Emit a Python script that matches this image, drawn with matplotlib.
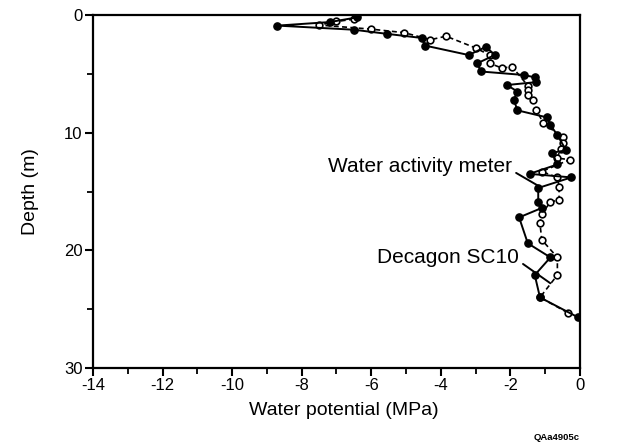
import numpy as np
import matplotlib.pyplot as plt
from matplotlib.ticker import MultipleLocator

plt.rcParams['font.family'] = ['Liberation Sans', 'DejaVu Sans']
plt.rcParams['axes.unicode_minus'] = False

# Water activity meter profile (MPa, depth m)
wam_psi = [-6.4, -7.2, -8.7, -6.5, -5.55, -4.55, -4.45, -3.2, -2.7, -2.45,
           -2.95, -2.85, -1.6, -1.3, -1.25, -2.1, -1.8, -1.9, -1.8, -0.95,
           -0.85, -0.65, -0.4, -0.8, -0.65, -1.45, -0.25, -1.2, -1.2, -1.1,
           -1.75, -1.5, -0.85, -1.3, -1.15, -0.05]
wam_depth = [0.2, 0.6, 0.9, 1.25, 1.6, 1.95, 2.6, 3.4, 2.7, 3.4,
             4.1, 4.8, 5.1, 5.3, 5.7, 5.95, 6.5, 7.2, 8.1, 8.7,
             9.35, 10.2, 11.5, 11.7, 12.7, 13.5, 13.8, 14.7, 15.9, 16.4,
             17.2, 19.4, 20.6, 22.1, 24.0, 25.7]

# Decagon SC10 profile (MPa, depth m)
sc10_psi = [-6.5, -7.0, -7.5, -6.0, -5.05, -4.3, -3.85, -3.0, -2.6, -2.6,
            -2.25, -1.95, -1.5, -1.5, -1.5, -1.35, -1.25, -1.05, -0.5, -0.5,
            -0.55, -0.66, -0.3, -1.1, -0.65, -0.6, -0.6, -0.85, -1.1, -1.15,
            -1.1, -0.65, -0.65, -1.15, -0.35]
sc10_depth = [0.35, 0.55, 0.85, 1.2, 1.5, 2.1, 1.8, 2.8, 3.4, 4.1,
              4.5, 4.4, 6.0, 6.4, 6.8, 7.2, 8.1, 9.2, 10.4, 10.9,
              11.4, 12.15, 12.3, 13.3, 13.8, 14.6, 15.7, 15.9, 16.9, 17.7,
              19.1, 20.6, 22.1, 24.0, 25.3]

fig = plt.figure(figsize=(6.17, 4.47), dpi=100)
ax = fig.add_axes([0.1507, 0.1767, 0.7893, 0.7897])

ax.plot(sc10_psi, sc10_depth, color='black', lw=1.2, ls=(0, (3, 2)),
        marker='o', ms=4.8, mfc='white', mec='black', mew=1.2, zorder=3)
ax.plot(wam_psi, wam_depth, color='black', lw=1.4, ls='-',
        marker='o', ms=5.2, mfc='black', mec='black', zorder=4)

ax.set_xlim(-14, 0)
ax.set_ylim(30, 0)
ax.xaxis.set_major_locator(MultipleLocator(2))
ax.xaxis.set_minor_locator(MultipleLocator(1))
ax.yaxis.set_major_locator(MultipleLocator(10))
ax.yaxis.set_minor_locator(MultipleLocator(5))

for sp in ax.spines.values():
    sp.set_linewidth(1.6)
ax.tick_params(which='major', direction='out', length=5.5, width=1.5, labelsize=12,
               top=False, right=False, pad=2)
ax.tick_params(which='minor', direction='out', length=4, width=1.3,
               top=False, right=False)

ax.set_xlabel('Water potential (MPa)', fontsize=14)
ax.xaxis.set_label_coords(0.515, -0.097)
ax.set_ylabel('Depth (m)', fontsize=14, labelpad=18)

# curve labels with leader lines
ax.annotate('Water activity meter', xy=(-1.15, 14.6), xytext=(-1.95, 12.9),
            fontsize=15, ha='right', va='center',
            arrowprops=dict(arrowstyle='-', color='black', lw=1.4,
                            relpos=(1.0, 0.3), shrinkA=1, shrinkB=0))
ax.annotate('Decagon SC10', xy=(-0.85, 22.8), xytext=(-1.75, 20.6),
            fontsize=15, ha='right', va='center',
            arrowprops=dict(arrowstyle='-', color='black', lw=1.4,
                            relpos=(1.0, 0.3), shrinkA=1, shrinkB=0))

fig.text(0.94, 0.012, 'QAa4905c', fontsize=6.8, fontweight='bold', ha='right', va='bottom')

fig.savefig('out.png', dpi=100, facecolor='white')
